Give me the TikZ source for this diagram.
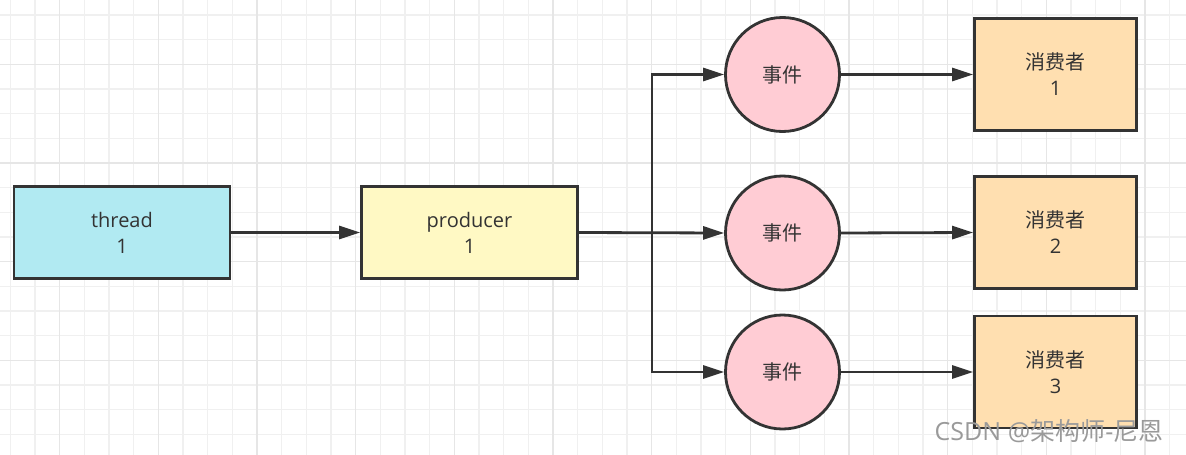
\documentclass[tikz,border=0pt]{standalone}
\usepackage{fontspec}
\setmainfont{Open Sans}
\newfontfamily\cjk{Noto Sans CJK SC}
\usetikzlibrary{arrows.meta}
\definecolor{gridminor}{HTML}{F0F0F0}
\definecolor{gridmajor}{HTML}{E6E6E6}
\definecolor{ink}{HTML}{333333}
\definecolor{threadc}{HTML}{B1EAF2}
\definecolor{prodc}{HTML}{FFF9C4}
\definecolor{eventc}{HTML}{FFCCD4}
\definecolor{consc}{HTML}{FFDFB0}
\definecolor{wmc}{HTML}{9A9A9A}
\begin{document}
\begin{tikzpicture}[x=1pt,y=-1pt,
  lbl/.style={text=ink,font=\fontsize{20}{26}\selectfont,align=center},
  box/.style={lbl,draw=ink,line width=2.8pt,rectangle,inner sep=0pt},
  widebox/.style={box,minimum width=216,minimum height=92},
  consbox/.style={box,minimum width=162,minimum height=112,fill=consc},
  ev/.style={lbl,draw=ink,line width=2.8pt,circle,minimum size=114,inner sep=0pt,fill=eventc},
  conn/.style={draw=ink,line width=2.8pt,-{Triangle[length=21pt,width=13pt]}},
  wm/.style={text=wmc,font=\fontsize{25}{28}\selectfont}]
\useasboundingbox (0,0) rectangle (1186,455);
\fill[white] (0,0) rectangle (1186,455);
% grid
\foreach \k in {0,...,47} {
  \pgfmathsetmacro\xx{10.3+\k*24.67}
  \draw[gridminor,line width=1.3pt] (\xx,0) -- (\xx,455);
}
\foreach \k in {0,...,17} {
  \pgfmathsetmacro\yy{15+\k*24.67}
  \draw[gridminor,line width=1.3pt] (0,\yy) -- (1186,\yy);
}
\foreach \k in {2,6,...,46} {
  \pgfmathsetmacro\xx{10.3+\k*24.67}
  \draw[gridmajor,line width=1.3pt] (\xx,0) -- (\xx,455);
}
\foreach \k in {2,6,10,14} {
  \pgfmathsetmacro\yy{15+\k*24.67}
  \draw[gridmajor,line width=1.3pt] (0,\yy) -- (1186,\yy);
}
% nodes
\node[widebox,fill=threadc] (t) at (122,232.5) {thread\\1};
\node[widebox,fill=prodc] (p) at (469.5,232.5) {producer\\1};
\node[ev] (e1) at (782.5,74.5) {\cjk 事件};
\node[ev] (e2) at (782.5,233) {\cjk 事件};
\node[ev] (e3) at (782.5,372) {\cjk 事件};
\node[consbox] (c1) at (1055.5,74.5) {{\cjk 消费者}\\1};
\node[consbox] (c2) at (1055.5,232.5) {{\cjk 消费者}\\2};
\node[consbox] (c3) at (1055.5,372) {{\cjk 消费者}\\3};
\coordinate (br) at (652,233);
% connectors
\draw[conn] (t.east) -- (p.west);
\draw[conn] (p.east) -- (e2.west);
\draw[conn] (br) |- (e1.west);
\draw[conn] (br) |- (e3.west);
\draw[conn] (e1.east) -- (c1.west);
\draw[conn] (e2.east) -- (c2.west);
\draw[conn] (e3.east) -- (c3.west);
% watermark
\node[wm] (w) at (1049,431) {CSDN @{\cjk 架构师}-{\cjk 尼恩}};
\end{tikzpicture}
\end{document}
